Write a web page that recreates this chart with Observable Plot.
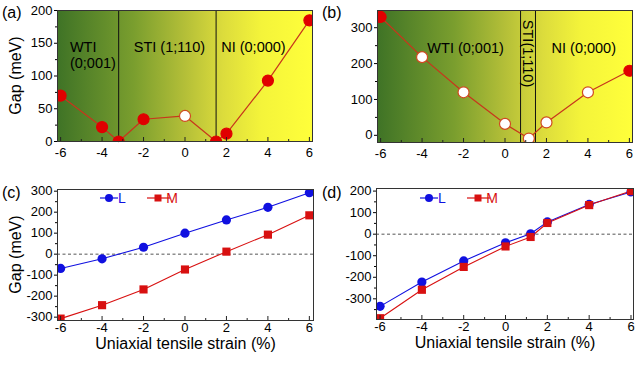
<!DOCTYPE html>
<html><head><meta charset="utf-8">
<script src="https://cdn.jsdelivr.net/npm/d3@7"></script>
<script src="https://cdn.jsdelivr.net/npm/@observablehq/plot@0.6"></script>
<style>
body{margin:0;background:#fff;font-family:"Liberation Sans",Arial,sans-serif;}
#fig{position:relative;width:640px;height:368px;overflow:hidden;background:#fff}
.p{position:absolute}
.lab{position:absolute;font-size:16px;color:#000;font-family:"Liberation Sans",Arial,sans-serif;line-height:1}
</style></head><body><div id="fig"></div>
<script>
// ---------- data ----------
const strainA = [-6, -4, -3.2, -2, 0, 1.5, 2, 4, 6];
const gapA    = [70, 22, 0, 34, 39, 0, 12, 93, 185];
const openA   = [0, 0, 0, 0, 1, 0, 0, 0, 0];
const boundA  = [-3.2, 1.5];

const strainB = [-6, -4, -2, 0, 1.15, 2, 4, 6];
const gapB    = [330, 218, 120, 32, -9, 36, 120, 180];
const openB   = [0, 1, 1, 1, 1, 1, 1, 0];
const boundB  = [0.75, 1.47];

const strainC = [-6, -4, -2, 0, 2, 4, 6];
const gapCL   = [-68, -22, 33, 100, 163, 223, 293];
const gapCM   = [-307, -243, -168, -73, 12, 93, 185];

const strainD = [-6, -4, -2, 0, 1.2, 2, 4, 6];
const gapDL   = [-335, -222, -124, -40, 2, 57, 138, 196];
const gapDM   = [-390, -258, -152, -57, -13, 52, 135, 200];

const xTicks  = [-6, -4, -2, 0, 2, 4, 6];
const xMinor  = [-5, -3, -1, 1, 3, 5];
const yTicksA = [0, 50, 100, 150, 200];
const yMinorA = [25, 75, 125, 175];
const yTicksB = [0, 100, 200, 300];
const yMinorB = [50, 150, 250];
const yTicksC = [-300, -200, -100, 0, 100, 200, 300];
const yMinorC = [-250, -150, -50, 50, 150, 250];
const yTicksD = [-300, -200, -100, 0, 100, 200];
const yMinorD = [-350, -250, -150, -50, 50, 150];

const seriesNames = ["L", "M"];
const yTitle = "Gap (meV)";
const xTitle = "Uniaxial tensile strain (%)";

// ---------- colours ----------
const lineRed = "#c8361c", dotRed = "#e00000", blue = "#1010e0", sqRed = "#d81010";
const gradStops = [[0, "#3f7326"], [0.3, "#7a9e2e"], [0.5, "#b4bf38"], [0.65, "#dcdc3c"], [0.8, "#f4f43a"], [1, "#ffff3a"]];

const fig = document.getElementById("fig");
const W = 320, H = 184;

function tidy(xs, ys, extra) { return xs.map((x, i) => ({x, y: ys[i], open: extra ? extra[i] : 0})); }

function axesMarks(m, yT, yM, padX) {
  const h = H - m.top - m.bottom;
  return [
    Plot.tickX(xTicks, {x: d => d, insetTop: h - 4, stroke: "#222"}),
    Plot.tickX(xMinor, {x: d => d, insetTop: h - 2, stroke: "#222"}),
    Plot.axisX({ticks: xTicks, tickSize: 0, tickPadding: padX, label: null, tickFormat: d => d}),
    Plot.axisY({ticks: yT, tickSize: 3, tickPadding: 2, label: null, tickFormat: d => d}),
    Plot.axisY({ticks: yM, tickSize: 2, label: null, tickFormat: () => ""})
  ];
}

// rotated y-axis title, centred on the frame
function yLabel(offset) {
  return (index, scales, values, dims) => {
    const cy = (dims.marginTop + dims.height - dims.marginBottom) / 2;
    const cx = dims.marginLeft - offset;
    const t = d3.create("svg:text")
      .attr("transform", `translate(${cx},${cy}) rotate(-90)`)
      .attr("text-anchor", "middle").attr("dy", "0.35em")
      .attr("font-size", 16).attr("fill", "#000").text(yTitle);
    return t.node();
  };
}

function place(svg, left, top, gradId) {
  svg.classList.add("p");
  svg.style.left = left + "px";
  svg.style.top = top + "px";
  if (gradId) {
    const defs = d3.select(svg).insert("defs", ":first-child");
    const lg = defs.append("linearGradient").attr("id", gradId).attr("x1", 0).attr("x2", 1).attr("y1", 0).attr("y2", 0);
    gradStops.forEach(s => lg.append("stop").attr("offset", s[0]).attr("stop-color", s[1]));
  }
  fig.appendChild(svg);
}

const baseStyle = {fontFamily: "Liberation Sans, Arial, sans-serif", fontSize: "13px", background: "transparent", overflow: "visible", color: "#000"};

function legend() {
  return () => {
    const g = d3.create("svg:g");
    const y = 14;
    g.append("line").attr("x1", 100).attr("x2", 118).attr("y1", y).attr("y2", y).attr("stroke", blue).attr("stroke-width", 1.2);
    g.append("circle").attr("cx", 109).attr("cy", y).attr("r", 4).attr("fill", blue);
    g.append("text").attr("x", 122).attr("y", y).attr("dy", "0.35em").attr("fill", blue).attr("font-size", 14).text(seriesNames[0]);
    g.append("line").attr("x1", 147).attr("x2", 170).attr("y1", y).attr("y2", y).attr("stroke", sqRed).attr("stroke-width", 1.2);
    g.append("rect").attr("x", 154.5).attr("y", y - 3.5).attr("width", 7).attr("height", 7).attr("fill", sqRed);
    g.append("text").attr("x", 172).attr("y", y).attr("dy", "0.35em").attr("fill", sqRed).attr("font-size", 14).text(seriesNames[1]);
    return g.node();
  };
}

// ---------- (a) ----------
{
  const m = {top: 10, right: 8, bottom: 43, left: 57};
  const data = tidy(strainA, gapA, openA);
  const svg = Plot.plot({
    width: W, height: H, marginTop: m.top, marginRight: m.right, marginBottom: m.bottom, marginLeft: m.left,
    style: baseStyle,
    x: {domain: [-6.15, 6.15]},
    y: {domain: [0, 200]},
    marks: [
      Plot.frame({fill: "url(#gradA)", stroke: "none"}),
      Plot.ruleX(boundA, {x: d => d, stroke: "#111", strokeWidth: 1}),
      Plot.line(data, {x: "x", y: "y", stroke: lineRed, strokeWidth: 1.2}),
      Plot.dot(data, {x: "x", y: "y", r: 5.5, fill: d => d.open ? "#fff" : dotRed, stroke: d => d.open ? "#d04a20" : dotRed, strokeWidth: 1.2, clip: "frame"}),
      Plot.text(["WTI", "(0;001)"], {x: -5.55, y: [143, 119], text: d => d, textAnchor: "start", fontSize: 14.5}),
      Plot.text(["STI (1;110)"], {x: -0.75, y: 143, text: d => d, fontSize: 14.5}),
      Plot.text(["NI (0;000)"], {x: 3.3, y: 143, text: d => d, fontSize: 14.5}),
      yLabel(42),
      Plot.frame({stroke: "#333"}),
      ...axesMarks(m, yTicksA, yMinorA, 6)
    ]
  });
  place(svg, 0, 0, "gradA");
}

// ---------- (b) ----------
{
  const m = {top: 10, right: 8, bottom: 42, left: 57};
  const data = tidy(strainB, gapB, openB);
  const svg = Plot.plot({
    width: W, height: H, marginTop: m.top, marginRight: m.right, marginBottom: m.bottom, marginLeft: m.left,
    style: baseStyle,
    x: {domain: [-6.15, 6.15]},
    y: {domain: [-20, 348]},
    marks: [
      Plot.frame({fill: "url(#gradB)", stroke: "none"}),
      Plot.ruleX(boundB, {x: d => d, stroke: "#111", strokeWidth: 1}),
      Plot.line(data, {x: "x", y: "y", stroke: lineRed, strokeWidth: 1.2}),
      Plot.dot(data, {x: "x", y: "y", r: 5.5, fill: d => d.open ? "#fff" : dotRed, stroke: d => d.open ? "#d04a20" : dotRed, strokeWidth: 1.2, clip: "frame"}),
      Plot.text(["WTI (0;001)"], {x: -1.9, y: 243, text: d => d, fontSize: 14.5}),
      Plot.text(["NI (0;000)"], {x: 3.8, y: 243, text: d => d, fontSize: 14.5}),
      Plot.text(["STI(1;110)"], {x: 1.11, y: 228, text: d => d, rotate: 90, fontSize: 14.5}),
      Plot.frame({stroke: "#333"}),
      ...axesMarks(m, yTicksB, yMinorB, 6)
    ]
  });
  place(svg, 320, 0, "gradB");
}

// ---------- (c) ----------
{
  const m = {top: 5, right: 7, bottom: 48, left: 57};
  const L = tidy(strainC, gapCL), M = tidy(strainC, gapCM);
  const svg = Plot.plot({
    width: W, height: H, marginTop: m.top, marginRight: m.right, marginBottom: m.bottom, marginLeft: m.left,
    style: baseStyle,
    x: {domain: [-6.15, 6.2]},
    y: {domain: [-316, 308]},
    marks: [
      Plot.ruleY([0], {stroke: "#555", strokeDasharray: "3,2.5", strokeWidth: 1}),
      Plot.line(L, {x: "x", y: "y", stroke: blue, strokeWidth: 1.1}),
      Plot.line(M, {x: "x", y: "y", stroke: sqRed, strokeWidth: 1.1}),
      Plot.dot(L, {x: "x", y: "y", r: 4.6, fill: blue, clip: "frame"}),
      Plot.dot(M, {x: "x", y: "y", r: 4.6, symbol: "square", fill: sqRed, clip: "frame"}),
      legend(),
      yLabel(42),
      Plot.text([xTitle], {frameAnchor: "bottom", dy: 23, lineAnchor: "middle", text: d => d, fontSize: 16}),
      Plot.frame({stroke: "#333"}),
      ...axesMarks(m, yTicksC, yMinorC, 2)
    ]
  });
  place(svg, 0, 184);
}

// ---------- (d) ----------
{
  const m = {top: 4, right: 7, bottom: 49, left: 56};
  const L = tidy(strainD, gapDL), M = tidy(strainD, gapDM);
  const svg = Plot.plot({
    width: W, height: H, marginTop: m.top, marginRight: m.right, marginBottom: m.bottom, marginLeft: m.left,
    style: baseStyle,
    x: {domain: [-6.17, 6.12]},
    y: {domain: [-396, 212]},
    marks: [
      Plot.ruleY([0], {stroke: "#555", strokeDasharray: "3,2.5", strokeWidth: 1}),
      Plot.line(L, {x: "x", y: "y", stroke: blue, strokeWidth: 1.1}),
      Plot.line(M, {x: "x", y: "y", stroke: sqRed, strokeWidth: 1.1}),
      Plot.dot(L, {x: "x", y: "y", r: 4.6, fill: blue, clip: "frame"}),
      Plot.dot(M, {x: "x", y: "y", r: 4.6, symbol: "square", fill: sqRed, clip: "frame"}),
      legend(),
      Plot.text([xTitle], {frameAnchor: "bottom", dy: 23, lineAnchor: "middle", text: d => d, fontSize: 16}),
      Plot.frame({stroke: "#333"}),
      ...axesMarks(m, yTicksD, yMinorD, 2)
    ]
  });
  place(svg, 320, 184);
}

// panel letters
[["(a)", 2, 5], ["(b)", 322, 5], ["(c)", 2, 185], ["(d)", 322, 185]].forEach(([t, l, tp]) => {
  const d = document.createElement("div");
  d.className = "lab"; d.textContent = t; d.style.left = l + "px"; d.style.top = tp + "px";
  fig.appendChild(d);
});
</script>
</body></html>
